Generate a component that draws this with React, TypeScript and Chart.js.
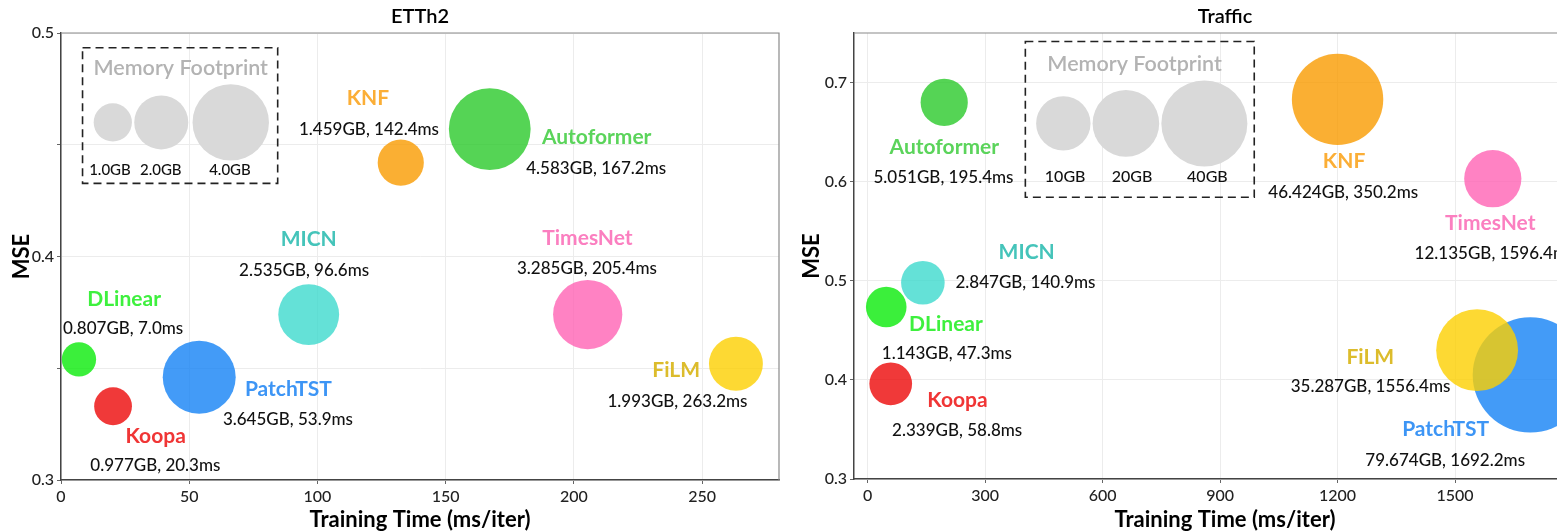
import React, { useEffect, useRef } from 'react';
import { Chart, registerables } from 'chart.js';
Chart.register(...registerables);

// ---------- shared ----------
const models = ['DLinear', 'Koopa', 'PatchTST', 'MICN', 'TimesNet', 'FiLM', 'KNF', 'Autoformer'];
const bubbleColors = [
  'rgba(10,235,10,0.8)', 'rgba(236,8,8,0.8)', 'rgba(20,130,245,0.8)', 'rgba(61,218,205,0.8)',
  'rgba(255,99,180,0.8)', 'rgba(252,208,0,0.8)', 'rgba(249,155,0,0.8)', 'rgba(43,201,43,0.8)',
];
const nameColors = ['#3ef03e', '#f03535', '#3d95f5', '#45c4ba', '#fb7fc0', '#dcbc2c', '#fbae36', '#5bd45b'];

// ---------- ETTh2 ----------
const etthTime = [7.0, 20.3, 53.9, 96.6, 205.4, 263.2, 132.5, 167.2];
const etthTimeText = ['7.0', '20.3', '53.9', '96.6', '205.4', '263.2', '142.4', '167.2'];
const etthMse = [0.354, 0.333, 0.346, 0.374, 0.374, 0.352, 0.442, 0.457];
const etthMem = [0.807, 0.977, 3.645, 2.535, 3.285, 1.993, 1.459, 4.583];
const etthNameX = [24.6, 36.9, 88.7, 96.6, 205.3, 239.9, 119.7, 208.9];
const etthNameY = [0.3808, 0.3197, 0.3407, 0.4078, 0.4081, 0.3489, 0.4707, 0.4533];
const etthValX = [24.2, 36.8, 88.5, 94.8, 205.1, 240.4, 120.1, 208.7];
const etthValY = [0.3679, 0.3064, 0.3272, 0.3936, 0.3947, 0.3353, 0.4566, 0.4395];
const etthXTicks = [0, 50, 100, 150, 200, 250];
const etthXLabels = ['0', '50', '100', '150', '200', '250'];
const etthYTicks = [0.3, 0.35, 0.4, 0.45, 0.5];
const etthYLabels = ['0.3', '', '0.4', '', '0.5'];
const etthLegendMem = [1, 2, 4];
const etthLegendText = ['1.0GB', '2.0GB', '4.0GB'];
const etthLegendX = [20.2, 39.1, 66.2];
const etthLegendY = 0.46;
const etthLegendTextX = [19.1, 38.9, 65.9];
const etthLegendTextY = 0.4387;
const etthLegendTitlePos = [46.7, 0.4841];
const etthLegendBox = [8.4, 84.5, 0.4327, 0.4934];

// ---------- Traffic ----------
const trafficTime = [47.3, 58.8, 1692.2, 140.9, 1596.4, 1556.4, 1200.0, 195.4];
const trafficTimeText = ['47.3', '58.8', '1692.2', '140.9', '1596.4', '1556.4', '350.2', '195.4'];
const trafficMse = [0.4735, 0.396, 0.405, 0.498, 0.603, 0.43, 0.683, 0.68];
const trafficMem = [1.143, 2.339, 79.674, 2.847, 12.135, 35.287, 46.424, 5.051];
const trafficNameX = [199.9, 229.3, 1476.1, 405.9, 1590, 1283.6, 1216.5, 195.8];
const trafficNameY = [0.4561, 0.3796, 0.35, 0.5289, 0.5581, 0.4232, 0.6202, 0.6346];
const trafficValX = [202.2, 228.5, 1474.8, 402.9, 1600.7, 1284.1, 1214.5, 193.5];
const trafficValY = [0.4266, 0.3493, 0.3191, 0.4987, 0.5273, 0.393, 0.5893, 0.6038];
const trafficXTicks = [0, 300, 600, 900, 1200, 1500];
const trafficXLabels = ['0', '300', '600', '900', '1200', '1500'];
const trafficYTicks = [0.3, 0.4, 0.5, 0.6, 0.7];
const trafficYLabels = ['0.3', '0.4', '0.5', '0.6', '0.7'];
const trafficLegendMem = [10, 20, 40];
const trafficLegendText = ['10GB', '20GB', '40GB'];
const trafficLegendX = [499.6, 659.4, 859.8];
const trafficLegendY = 0.6588;
const trafficLegendTextX = [504.2, 675.3, 867.5];
const trafficLegendTextY = 0.6044;
const trafficLegendTitlePos = [681.6, 0.7186];
const trafficLegendBox = [402.6, 987.2, 0.5843, 0.7414];

const FONT = 'Lato, "Open Sans", sans-serif';

type PanelDef = {
  title: string;
  time: number[]; timeText: string[]; mse: number[]; mem: number[];
  nameX: number[]; nameY: number[]; valX: number[]; valY: number[];
  xTicks: number[]; xLabels: string[]; yTicks: number[]; yLabels: string[];
  xMin: number; xMax: number; yMin: number; yMax: number;
  legendMem: number[]; legendText: string[]; legendX: number[]; legendY: number;
  legendTextX: number[]; legendTextY: number; legendTitlePos: number[]; legendBox: number[];
  radius: (m: number) => number;
  legendFont: number;
  left: number; width: number; areaLeft: number; areaRight: number; areaTop: number; areaBottom: number;
};

const H = 531;

const panels: PanelDef[] = [
  {
    title: 'ETTh2', time: etthTime, timeText: etthTimeText, mse: etthMse, mem: etthMem,
    nameX: etthNameX, nameY: etthNameY, valX: etthValX, valY: etthValY,
    xTicks: etthXTicks, xLabels: etthXLabels, yTicks: etthYTicks, yLabels: etthYLabels,
    xMin: 0, xMax: 280, yMin: 0.3, yMax: 0.5,
    legendMem: etthLegendMem, legendText: etthLegendText, legendX: etthLegendX, legendY: etthLegendY,
    legendTextX: etthLegendTextX, legendTextY: etthLegendTextY, legendTitlePos: etthLegendTitlePos, legendBox: etthLegendBox,
    radius: (m) => Math.sqrt(365 * m),
    legendFont: 15,
    left: 0, width: 790, areaLeft: 61, areaRight: 779, areaTop: 33, areaBottom: 480,
  },
  {
    title: 'Traffic', time: trafficTime, timeText: trafficTimeText, mse: trafficMse, mem: trafficMem,
    nameX: trafficNameX, nameY: trafficNameY, valX: trafficValX, valY: trafficValY,
    xTicks: trafficXTicks, xLabels: trafficXLabels, yTicks: trafficYTicks, yLabels: trafficYLabels,
    xMin: -35, xMax: 1860, yMin: 0.3, yMax: 0.75,
    legendMem: trafficLegendMem, legendText: trafficLegendText, legendX: trafficLegendX, legendY: trafficLegendY,
    legendTextX: trafficLegendTextX, legendTextY: trafficLegendTextY, legendTitlePos: trafficLegendTitlePos, legendBox: trafficLegendBox,
    radius: (m) => Math.sqrt(370 + 37 * m),
    legendFont: 16,
    left: 790, width: 830, areaLeft: 64, areaRight: 806, areaTop: 33, areaBottom: 479,
  },
];

function makePlugin(p: PanelDef) {
  return {
    id: 'annot_' + p.title,
    afterDatasetsDraw(chart: any) {
      const { ctx, chartArea } = chart;
      const xs = chart.scales.x;
      const ys = chart.scales.y;
      const px = (v: number) => xs.getPixelForValue(v);
      const py = (v: number) => ys.getPixelForValue(v);
      ctx.save();
      // top & right spines
      ctx.strokeStyle = '#8a8a8a';
      ctx.lineWidth = 1.2;
      ctx.beginPath();
      ctx.moveTo(chartArea.left, chartArea.top);
      ctx.lineTo(chartArea.right, chartArea.top);
      ctx.lineTo(chartArea.right, chartArea.bottom);
      ctx.stroke();
      // legend dashed box
      const [bx0, bx1, by0, by1] = p.legendBox;
      ctx.strokeStyle = '#222';
      ctx.lineWidth = 1.6;
      ctx.setLineDash([8, 5]);
      ctx.strokeRect(px(bx0), py(by1), px(bx1) - px(bx0), py(by0) - py(by1));
      ctx.setLineDash([]);
      ctx.textAlign = 'center';
      ctx.textBaseline = 'middle';
      // legend title
      ctx.fillStyle = '#b3b3b3';
      ctx.font = `600 21.5px ${FONT}`;
      ctx.fillText('Memory Footprint', px(p.legendTitlePos[0]), py(p.legendTitlePos[1]));
      // legend labels
      ctx.fillStyle = '#111';
      ctx.font = `500 ${p.legendFont}px ${FONT}`;
      p.legendText.forEach((t, i) => ctx.fillText(t, px(p.legendTextX[i]), py(p.legendTextY)));
      // model labels
      models.forEach((m, i) => {
        ctx.fillStyle = nameColors[i];
        ctx.font = `700 21px ${FONT}`;
        ctx.fillText(m, px(p.nameX[i]), py(p.nameY[i]));
        ctx.fillStyle = '#111';
        ctx.font = `500 17px ${FONT}`;
        ctx.fillText(`${p.mem[i].toFixed(3)}GB, ${p.timeText[i]}ms`, px(p.valX[i]), py(p.valY[i]));
      });
      // titles
      const cx = (chartArea.left + chartArea.right) / 2;
      ctx.fillStyle = '#000';
      ctx.font = `600 20px ${FONT}`;
      ctx.fillText(p.title, cx, 17);
      ctx.font = `700 22px ${FONT}`;
      ctx.fillText('Training Time (ms/iter)', cx, 520);
      ctx.translate(22, (chartArea.top + chartArea.bottom) / 2);
      ctx.rotate(-Math.PI / 2);
      ctx.fillText('MSE', 0, 0);
      ctx.restore();
    },
  };
}

function Panel({ p }: { p: PanelDef }) {
  const ref = useRef<HTMLCanvasElement>(null);
  useEffect(() => {
    if (!ref.current) return;
    const points = models.map((_, i) => ({ x: p.time[i], y: p.mse[i], r: p.radius(p.mem[i]) }));
    const legendPts = p.legendMem.map((m, i) => ({ x: p.legendX[i], y: p.legendY, r: p.radius(m) }));
    const chart = new Chart(ref.current, {
      type: 'bubble',
      data: {
        datasets: [
          {
            label: 'models', data: points, backgroundColor: bubbleColors, borderWidth: 0,
            hoverBorderWidth: 0, clip: false, order: 0,
          } as any,
          {
            label: 'legend', data: legendPts, backgroundColor: '#d9d9d9', borderWidth: 0,
            clip: false, order: 1,
          } as any,
        ],
      },
      options: {
        animation: false,
        responsive: true,
        maintainAspectRatio: false,
        events: [],
        layout: {
          autoPadding: false,
          padding: { left: 0, top: p.areaTop, right: p.width - p.areaRight, bottom: 0 },
        },
        plugins: { legend: { display: false }, tooltip: { enabled: false }, title: { display: false } },
        scales: {
          x: {
            type: 'linear', min: p.xMin, max: p.xMax,
            afterBuildTicks: (s: any) => { s.ticks = p.xTicks.map((v) => ({ value: v })); },
            afterFit: (s: any) => { s.height = H - p.areaBottom; },
            ticks: {
              callback: (_v: any, i: number) => p.xLabels[i],
              font: { family: FONT, size: 16, weight: '500' }, color: '#222', padding: 3, maxRotation: 0, autoSkip: false,
            },
            grid: { color: '#ececec', lineWidth: 1, tickLength: 4, tickColor: '#666' },
            border: { display: true, color: '#444', width: 1.5 },
          },
          y: {
            type: 'linear', min: p.yMin, max: p.yMax,
            afterBuildTicks: (s: any) => { s.ticks = p.yTicks.map((v) => ({ value: v })); },
            afterFit: (s: any) => { s.width = p.areaLeft; },
            ticks: {
              callback: (_v: any, i: number) => p.yLabels[i],
              font: { family: FONT, size: 16, weight: '500' }, color: '#222', padding: 3, autoSkip: false,
            },
            grid: { color: '#ececec', lineWidth: 1, tickLength: 4, tickColor: '#666' },
            border: { display: true, color: '#444', width: 1.5 },
          },
        },
      },
      plugins: [makePlugin(p)],
    });
    return () => chart.destroy();
  }, [p]);
  return (
    <div style={{ position: 'absolute', left: p.left, top: 0, width: p.width, height: H }}>
      <canvas ref={ref} />
    </div>
  );
}

export default function App() {
  return (
    <div style={{ position: 'fixed', left: 0, top: 0, width: 1557, height: H, overflow: 'hidden', background: '#fff' }}>
      {panels.map((p) => <Panel key={p.title} p={p} />)}
    </div>
  );
}
